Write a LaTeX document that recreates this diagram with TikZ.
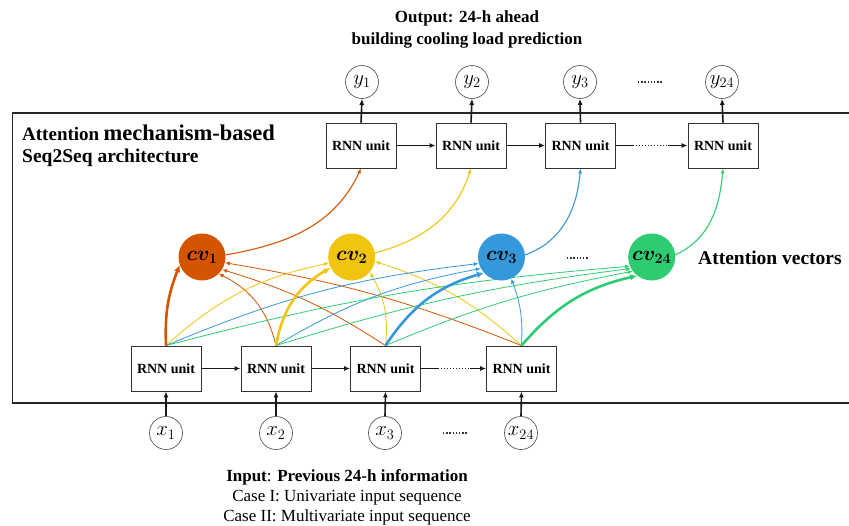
\documentclass[tikz,border=0pt]{standalone}
\usepackage{fontspec}
\setmainfont{Liberation Serif}
\usepackage{bm}
\usetikzlibrary{arrows.meta}
\definecolor{attorange}{RGB}{213,84,0}
\definecolor{attyellow}{RGB}{241,196,15}
\definecolor{attblue}{RGB}{52,152,219}
\definecolor{attgreen}{RGB}{46,204,113}
\pgfdeclarelayer{bg}
\pgfsetlayers{bg,main}
\begin{document}
\begin{tikzpicture}[x=1pt,y=1pt,
  rnn/.style={draw=black!80, line width=0.9pt, fill=white, minimum width=70pt,
    minimum height=45pt, inner sep=0pt, font=\bfseries\fontsize{14}{16}\selectfont},
  io/.style={circle, draw=black!65, line width=0.7pt, fill=white, minimum size=33pt,
    inner sep=0pt, font=\fontsize{20}{22}\selectfont},
  cvnode/.style={circle, minimum size=47pt, inner sep=0pt, font=\fontsize{22}{24}\selectfont},
  flow/.style={line width=1.6pt, black!90, -{Latex[length=6pt,width=5pt]}},
  plainflow/.style={line width=1.6pt, black!90},
  dotflow/.style={line width=1.4pt, black!90, dash pattern=on 1.3pt off 1.7pt},
  att/.style={line width=0.8pt, -{Latex[length=5pt,width=4pt]}},
  attmain/.style={line width=2.6pt, -{Latex[length=7pt,width=6.5pt]}},
  ctx/.style={line width=1.1pt, -{Latex[length=5pt,width=4pt]}},
  title/.style={font=\bfseries, inner sep=0pt, anchor=west},
  caption/.style={inner sep=0pt, align=center, font=\fontsize{17}{20}\selectfont},
]
\useasboundingbox (0,0) rectangle (849,-525);

% encoder RNN units
\node[rnn] (e1) at (166,-368.5) {RNN unit};
\node[rnn] (e2) at (276,-368.5) {RNN unit};
\node[rnn] (e3) at (385.5,-368.5) {RNN unit};
\node[rnn] (e4) at (521.5,-368.5) {RNN unit};
% decoder RNN units
\node[rnn] (d1) at (361,-145.5) {RNN unit};
\node[rnn] (d2) at (471,-145.5) {RNN unit};
\node[rnn] (d3) at (580.5,-145.5) {RNN unit};
\node[rnn] (d4) at (723,-145.5) {RNN unit};

% inputs and outputs
\node[io] (x1) at (166,-433) {$x_1$};
\node[io] (x2) at (276,-433) {$x_2$};
\node[io] (x3) at (385,-433) {$x_3$};
\node[io] (x4) at (521,-433) {$x_{24}$};
\node[io] (y1) at (362,-82) {$y_1$};
\node[io] (y2) at (472,-82) {$y_2$};
\node[io] (y3) at (580,-82) {$y_3$};
\node[io] (y4) at (722,-82) {$y_{24}$};

% attention (context) vectors
\node[cvnode, fill=attorange] (c1) at (202,-257) {$\bm{cv}_{\bm{1}}$};
\node[cvnode, fill=attyellow] (c2) at (351.7,-257) {$\bm{cv}_{\bm{2}}$};
\node[cvnode, fill=attblue] (c3) at (501.5,-257) {$\bm{cv}_{\bm{3}}$};
\node[cvnode, fill=attgreen] (c4) at (651.7,-257) {$\bm{cv}_{\bm{24}}$};

% texts
\node[title] (t1) at (22,-133) {{\fontsize{19}{22}\selectfont Attention}\hspace{2pt} {\fontsize{22.5}{24}\selectfont mechanism-based}};
\node[title, font=\bfseries\fontsize{19.5}{22}\selectfont] (t2) at (22,-158) {Seq2Seq architecture};
\node[title, font=\bfseries\fontsize{19.5}{22}\selectfont] (t3) at (698,-258) {Attention vectors};
\node[caption, font=\bfseries\fontsize{17}{22}\selectfont] (out) at (467,-29) {Output: 24-h ahead\\building cooling load prediction};
\node[caption, font=\fontsize{17}{20}\selectfont] (in) at (347,-497)
  {\textbf{Input}: \textbf{Previous 24-h information}\\Case I: Univariate input sequence\\Case II: Multivariate input sequence};

% helper points for the dotted links
\coordinate (ea) at (438,-368.5);
\coordinate (eb) at (470,-368.5);
\coordinate (da) at (633,-145.5);
\coordinate (db) at (668,-145.5);

\begin{pgfonlayer}{bg}
  % enclosing frame
  \draw[line width=1.8pt, black!85] (12.5,-113) rectangle (870,-403);

  % vertical data flow
  \foreach \i in {1,2,3,4} {
    \draw[flow] (x\i.north) -- (e\i.south);
    \draw[flow] (d\i.north) -- (y\i.south);
  }
  % recurrent links
  \draw[flow] (e1.east) -- (e2.west);
  \draw[flow] (e2.east) -- (e3.west);
  \draw[plainflow] (e3.east) -- (ea);
  \draw[dotflow] (ea) -- (eb);
  \draw[flow] (eb) -- (e4.west);
  \draw[flow] (d1.east) -- (d2.west);
  \draw[flow] (d2.east) -- (d3.west);
  \draw[plainflow] (d3.east) -- (da);
  \draw[dotflow] (da) -- (db);
  \draw[flow] (db) -- (d4.west);

  % attention weights: encoder states -> cv1
  \draw[att, attorange] (e2.north) to[bend right=25] (c1.-45);
  \draw[att, attorange] (e3.north) to[bend right=8] (c1.-32);
  \draw[att, attorange] (e4.north) to[bend right=6] (c1.-14);
  % -> cv2
  \draw[att, attyellow] (e1.north) to[bend left=15] (c2.195);
  \draw[att, attyellow] (e3.north) to[bend right=18] (c2.-40);
  \draw[att, attyellow] (e4.north) to[bend right=12] (c2.-11);
  % -> cv3
  \draw[att, attblue] (e1.north) to[bend left=8] (c3.196);
  \draw[att, attblue] (e2.north) to[bend left=10] (c3.209);
  \draw[att, attblue] (e4.north) to[bend right=12] (c3.-66);
  % -> cv24
  \draw[att, attgreen] (e1.north) to[bend left=5] (c4.203);
  \draw[att, attgreen] (e2.north) to[bend left=5] (c4.209);
  \draw[att, attgreen] (e3.north) to[bend left=6] (c4.217);

  % dominant weights
  \draw[attmain, attorange] (e1.north) to[bend left=12] (c1.200);
  \draw[attmain, attyellow] (e2.north) to[bend left=25] (c2.207);
  \draw[attmain, attblue] (e3.north) to[bend left=20] (c3.222);
  \draw[attmain, attgreen] (e4.north) to[bend left=18] (c4.232);

  % context vectors into the decoder
  \draw[ctx, attorange] (c1.5) to[out=10, in=-115] (d1.south);
  \draw[ctx, attyellow] (c2.10) to[out=15, in=-108] (d2.south);
  \draw[ctx, attblue] (c3.5) to[out=20, in=-95] (d3.south);
  \draw[ctx, attgreen] (c4.5) to[out=25, in=-95] (d4.south);
\end{pgfonlayer}

% ellipses between the last two steps
\draw[line width=1.4pt, black!80, dash pattern=on 1.3pt off 1.9pt] (638,-82) -- (663,-82);
\draw[line width=1.4pt, black!80, dash pattern=on 1.3pt off 1.9pt] (443,-433) -- (468,-433);
\draw[line width=1.4pt, black!80, dash pattern=on 1.3pt off 1.9pt] (567,-258) -- (589,-258);
\end{tikzpicture}
\end{document}
